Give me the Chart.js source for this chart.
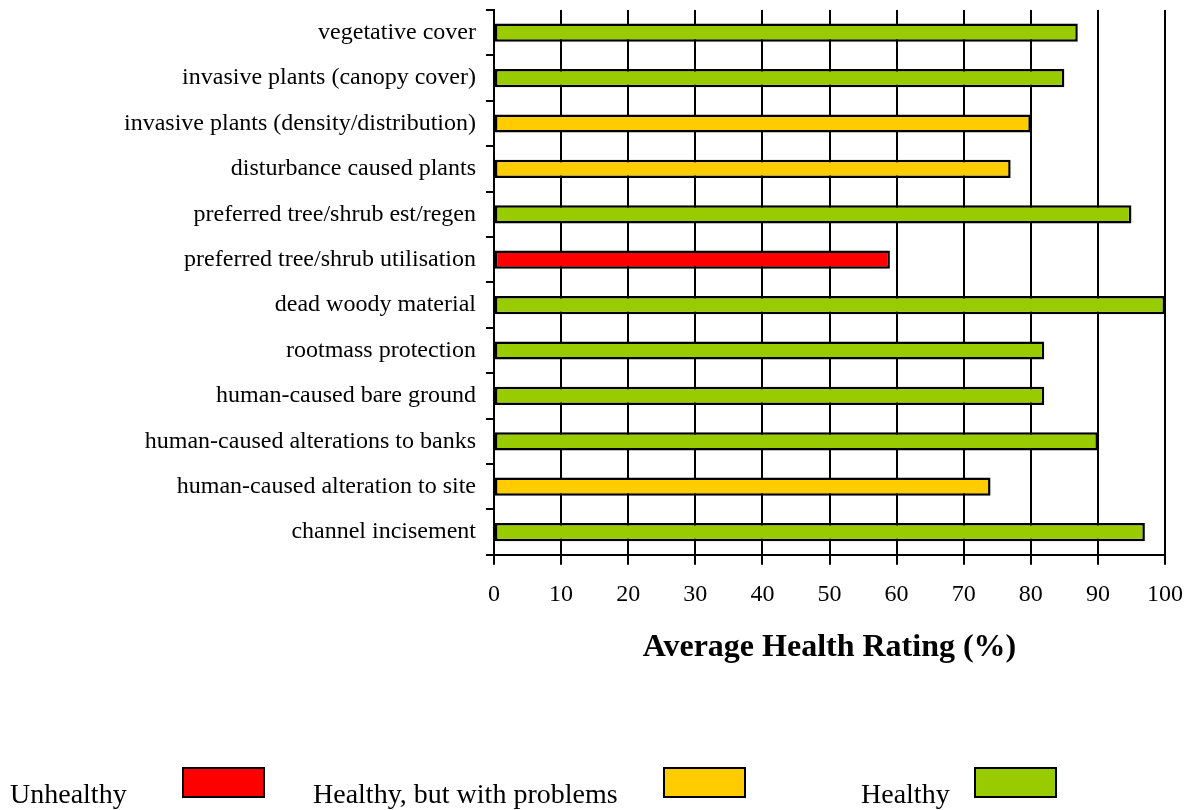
<!DOCTYPE html>
<html>
<head>
<meta charset="utf-8">
<title>Average Health Rating</title>
<script src="https://cdn.jsdelivr.net/npm/chart.js@4"></script>
<style>
  html, body { margin: 0; padding: 0; background: #ffffff; }
  #wrap { position: relative; width: 1194px; height: 810px; }
  canvas { display: block; }
</style>
</head>
<body>
<div id="wrap"><canvas id="chart" width="1194" height="810"></canvas></div>
<script>
// Riparian health indicators, top to bottom
const categories = [
  'vegetative cover',
  'invasive plants (canopy cover)',
  'invasive plants (density/distribution)',
  'disturbance caused plants',
  'preferred tree/shrub est/regen',
  'preferred tree/shrub utilisation',
  'dead woody material',
  'rootmass protection',
  'human-caused bare ground',
  'human-caused alterations to banks',
  'human-caused alteration to site',
  'channel incisement'
];

// Average health rating (%) per indicator
const ratings = [87, 85, 80, 77, 95, 59, 100, 82, 82, 90, 74, 97];

// Rating class per indicator: 0 = unhealthy, 1 = healthy with problems, 2 = healthy
const statusClass = [2, 2, 1, 1, 2, 0, 2, 2, 2, 2, 1, 2];

// Rating classes and their fills
const classLabels = ['Unhealthy', 'Healthy, but with problems', 'Healthy'];
const classColors = ['#FF0000', '#FFCC00', '#99CC00'];

// x-axis ticks
const xTicks = [0, 10, 20, 30, 40, 50, 60, 70, 80, 90, 100];

const SERIF = "'Liberation Serif', 'Times New Roman', serif";

// Legend row under the chart: label text followed by a colour box
const legendLayout = [
  { textX: 10,  boxX: 182 },
  { textX: 313, boxX: 663 },
  { textX: 861, boxX: 974 }
];

const bottomLegend = {
  id: 'bottomLegend',
  afterDraw(chart) {
    const ctx = chart.ctx;
    ctx.save();
    ctx.font = '28px ' + SERIF;
    ctx.textBaseline = 'alphabetic';
    ctx.textAlign = 'left';
    classLabels.forEach((label, i) => {
      const pos = legendLayout[i];
      ctx.fillStyle = '#000000';
      ctx.fillText(label, pos.textX, 803);
      ctx.fillStyle = classColors[i];
      ctx.fillRect(pos.boxX, 767, 83, 31);
      ctx.lineWidth = 2;
      ctx.strokeStyle = '#000000';
      ctx.strokeRect(pos.boxX + 1, 768, 81, 29);
    });
    ctx.restore();
  }
};

new Chart(document.getElementById('chart'), {
  type: 'bar',
  data: {
    labels: categories,
    datasets: [{
      data: ratings,
      backgroundColor: statusClass.map(c => classColors[c]),
      borderColor: '#000000',
      borderWidth: 2.5,
      borderSkipped: false,
      barPercentage: 0.4,
      categoryPercentage: 1.0
    }]
  },
  options: {
    indexAxis: 'y',
    responsive: false,
    animation: false,
    devicePixelRatio: 1,
    layout: { padding: { top: 10, right: 29, bottom: 143, left: 0 } },
    plugins: {
      legend: { display: false },
      tooltip: { enabled: false },
      title: { display: false }
    },
    scales: {
      x: {
        min: 0,
        max: 100,
        afterBuildTicks(scale) {
          scale.ticks = xTicks.map(v => ({ value: v }));
        },
        afterFit(scale) {
          scale.paddingLeft = 0;
          scale.paddingRight = 0;
        },
        grid: {
          color: '#000000',
          lineWidth: 2,
          drawOnChartArea: true,
          drawTicks: true,
          tickLength: 10,
          tickColor: '#000000'
        },
        border: { display: true, color: '#000000', width: 2 },
        ticks: {
          color: '#000000',
          padding: 16,
          font: { family: SERIF, size: 24 },
          maxRotation: 0
        },
        title: {
          display: true,
          text: 'Average Health Rating (%)',
          color: '#000000',
          font: { family: SERIF, size: 32, weight: 'bold' },
          padding: { top: 3, bottom: 0 }
        }
      },
      y: {
        offset: true,
        afterFit(scale) {
          scale.width = 494;
          scale.paddingTop = 0;
          scale.paddingBottom = 0;
        },
        grid: {
          offset: true,
          color: '#000000',
          lineWidth: 2,
          drawOnChartArea: false,
          drawTicks: true,
          tickLength: 8,
          tickColor: '#000000'
        },
        border: { display: true, color: '#000000', width: 2 },
        ticks: {
          color: '#000000',
          padding: 10,
          autoSkip: false,
          font: { family: SERIF, size: 24 }
        }
      }
    }
  },
  plugins: [bottomLegend]
});
</script>
</body>
</html>
